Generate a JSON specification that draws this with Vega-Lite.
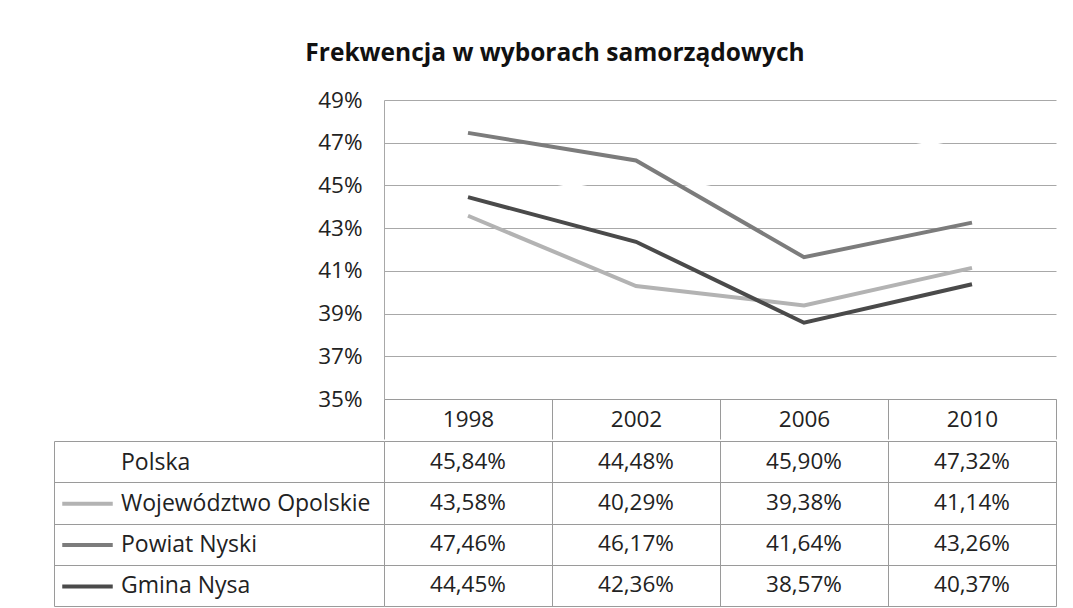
{
  "$schema": "https://vega.github.io/schema/vega-lite/v6.json",
  "padding": {"top": 41, "left": 53, "right": 10, "bottom": 0},
  "background": "white",
  "title": {"text": "Frekwencja w wyborach samorządowych", "fontSize": 24.5, "fontWeight": "bold", "font": "Open Sans", "color": "#111111", "anchor": "middle", "offset": 22.5},
  "data": {"values": [
    {"series": "Polska", "year": "1998", "value": 0.4584},
    {"series": "Polska", "year": "2002", "value": 0.4448},
    {"series": "Polska", "year": "2006", "value": 0.4590},
    {"series": "Polska", "year": "2010", "value": 0.4732},
    {"series": "Województwo Opolskie", "year": "1998", "value": 0.4358},
    {"series": "Województwo Opolskie", "year": "2002", "value": 0.4029},
    {"series": "Województwo Opolskie", "year": "2006", "value": 0.3938},
    {"series": "Województwo Opolskie", "year": "2010", "value": 0.4114},
    {"series": "Powiat Nyski", "year": "1998", "value": 0.4746},
    {"series": "Powiat Nyski", "year": "2002", "value": 0.4617},
    {"series": "Powiat Nyski", "year": "2006", "value": 0.4164},
    {"series": "Powiat Nyski", "year": "2010", "value": 0.4326},
    {"series": "Gmina Nysa", "year": "1998", "value": 0.4445},
    {"series": "Gmina Nysa", "year": "2002", "value": 0.4236},
    {"series": "Gmina Nysa", "year": "2006", "value": 0.3857},
    {"series": "Gmina Nysa", "year": "2010", "value": 0.4037}
  ]},
  "spacing": 0,
  "vconcat": [
    {
      "width": 672,
      "height": 299,
      "mark": {"type": "line", "strokeWidth": 4},
      "encoding": {
        "x": {"field": "year", "type": "ordinal", "scale": {"type": "band", "paddingInner": 0, "paddingOuter": 0},
          "axis": {"title": null, "labelAngle": 0, "tickBand": "extent", "tickSize": 40, "tickColor": "#9a9a9a", "domainColor": "#9a9a9a", "labelPadding": -20, "labelBaseline": "middle", "labelFontSize": 22.5, "labelColor": "#222222", "grid": false}},
        "y": {"field": "value", "type": "quantitative", "scale": {"domain": [0.35, 0.49], "nice": false, "zero": false},
          "axis": {"title": null, "values": [0.35, 0.37, 0.39, 0.41, 0.43, 0.45, 0.47, 0.49], "format": ".0%", "ticks": false, "labelPadding": 22, "labelFontSize": 22.5, "labelColor": "#222222", "domainColor": "#a8a8a8", "gridColor": "#a8a8a8", "grid": true}},
        "color": {"field": "series", "type": "nominal",
          "scale": {"domain": ["Polska", "Województwo Opolskie", "Powiat Nyski", "Gmina Nysa"], "range": ["#ffffff", "#b3b3b3", "#7c7c7c", "#4a4a4a"]},
          "legend": {"orient": "none", "legendX": -324, "legendY": 335, "title": null, "symbolType": "stroke", "symbolSize": 2550, "symbolStrokeWidth": 4, "labelFontSize": 23, "labelColor": "#222222", "labelOffset": 6, "rowPadding": 1.3, "labelLimit": 400}}
      }
    },
    {
      "width": 672,
      "height": 165,
      "mark": {"type": "text", "fontSize": 22.5, "color": "#222222"},
      "encoding": {
        "x": {"field": "year", "type": "ordinal", "scale": {"type": "band", "paddingInner": 0, "paddingOuter": 0},
          "axis": {"title": null, "labels": false, "ticks": false, "domain": false, "grid": true, "tickBand": "extent", "gridColor": "#9a9a9a", "orient": "bottom"}},
        "y": {"field": "series", "type": "nominal", "sort": ["Polska", "Województwo Opolskie", "Powiat Nyski", "Gmina Nysa"], "scale": {"type": "band", "paddingInner": 0, "paddingOuter": 0},
          "axis": {"title": null, "labels": false, "offset": 330, "tickSize": -330, "tickBand": "extent", "tickColor": "#9a9a9a", "domainColor": "#9a9a9a", "grid": true, "gridColor": "#9a9a9a"}},
        "text": {"field": "value", "type": "quantitative", "format": ".2%"}
      }
    }
  ],
  "config": {
    "font": "Open Sans",
    "view": {"stroke": null},
    "axis": {"labelFont": "Open Sans", "domainWidth": 1, "gridWidth": 1},
    "legend": {"labelFont": "Open Sans"},
    "locale": {"number": {"decimal": ",", "thousands": " ", "grouping": [3], "currency": ["", " zł"]}}
  }
}
